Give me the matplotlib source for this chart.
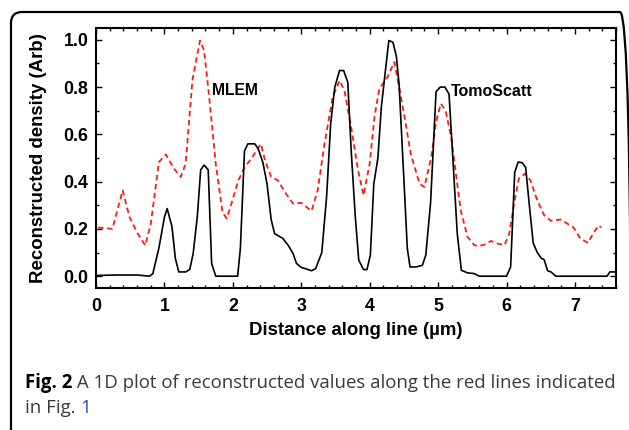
import matplotlib
matplotlib.use("Agg")
import matplotlib.pyplot as plt
from matplotlib.patches import FancyBboxPatch
from matplotlib.ticker import MultipleLocator

# black solid curve (TomoScatt)
tomo_x = [0.0, 0.3, 0.6, 0.78, 0.83, 0.92, 1.0, 1.04, 1.11, 1.16, 1.21, 1.31, 1.37, 1.42,
          1.48, 1.53, 1.58, 1.64, 1.69, 1.75, 2.07, 2.11, 2.17, 2.22, 2.32, 2.37, 2.44, 2.50,
          2.56, 2.61, 2.67, 2.73, 2.81, 2.88, 2.93, 3.0, 3.07, 3.15, 3.21, 3.30, 3.37, 3.43,
          3.49, 3.56, 3.62, 3.68, 3.73, 3.79, 3.84, 3.91, 3.96, 4.01, 4.06, 4.12, 4.17, 4.23,
          4.28, 4.34, 4.39, 4.43, 4.50, 4.55, 4.59, 4.68, 4.77, 4.82, 4.89, 4.97, 5.03, 5.10,
          5.16, 5.22, 5.28, 5.34, 5.43, 5.53, 5.60, 6.00, 6.06, 6.12, 6.17, 6.23, 6.28, 6.33,
          6.39, 6.45, 6.51, 6.55, 6.60, 6.65, 6.72, 7.47, 7.51, 7.6]
tomo_y = [0.003, 0.005, 0.005, 0.0, 0.01, 0.12, 0.25, 0.286, 0.21, 0.075, 0.018, 0.018, 0.028,
          0.096, 0.25, 0.45, 0.47, 0.45, 0.054, 0.0, 0.0, 0.117, 0.53, 0.56, 0.56, 0.54, 0.48,
          0.39, 0.24, 0.18, 0.17, 0.16, 0.13, 0.096, 0.054, 0.037, 0.031, 0.023, 0.032, 0.10,
          0.335, 0.645, 0.80, 0.87, 0.87, 0.82, 0.53, 0.25, 0.068, 0.028, 0.028, 0.089, 0.39,
          0.50, 0.715, 0.87, 0.997, 0.99, 0.93, 0.81, 0.41, 0.117, 0.039, 0.039, 0.046, 0.089,
          0.31, 0.78, 0.80, 0.80, 0.77, 0.476, 0.18, 0.025, 0.014, 0.011, 0.0, 0.0, 0.039,
          0.44, 0.483, 0.48, 0.46, 0.31, 0.14, 0.10, 0.075, 0.07, 0.023, 0.018, 0.0, 0.0,
          0.018, 0.018]

# red dashed curve (MLEM)
mlem_x = [0.03, 0.24, 0.39, 0.49, 0.61, 0.72, 0.80, 0.92, 1.02, 1.14, 1.24, 1.31, 1.41, 1.52,
          1.58, 1.65, 1.75, 1.85, 1.91, 1.98, 2.08, 2.17, 2.27, 2.41, 2.47, 2.56, 2.66, 2.76,
          2.88, 3.0, 3.15, 3.24, 3.34, 3.46, 3.56, 3.63, 3.73, 3.83, 3.91, 4.0, 4.07, 4.14,
          4.26, 4.36, 4.43, 4.51, 4.60, 4.73, 4.80, 4.90, 4.97, 5.04, 5.11, 5.19, 5.26, 5.33,
          5.43, 5.53, 5.60, 5.72, 5.77, 5.87, 5.97, 6.04, 6.11, 6.18, 6.27, 6.35, 6.45, 6.55,
          6.65, 6.79, 6.89, 6.98, 7.08, 7.19, 7.28, 7.35, 7.38]
mlem_y = [0.206, 0.20, 0.363, 0.25, 0.18, 0.13, 0.22, 0.483, 0.515, 0.455, 0.42, 0.476, 0.83,
          0.997, 0.955, 0.77, 0.476, 0.27, 0.244, 0.307, 0.405, 0.46, 0.497, 0.56, 0.49, 0.42,
          0.405, 0.356, 0.307, 0.31, 0.276, 0.363, 0.56, 0.758, 0.828, 0.786, 0.63, 0.448,
          0.342, 0.476, 0.673, 0.793, 0.842, 0.906, 0.80, 0.673, 0.518, 0.39, 0.377, 0.504,
          0.652, 0.73, 0.70, 0.59, 0.434, 0.279, 0.166, 0.131, 0.127, 0.138, 0.149, 0.138,
          0.131, 0.18, 0.307, 0.413, 0.434, 0.405, 0.32, 0.258, 0.234, 0.24, 0.222, 0.206,
          0.159, 0.141, 0.187, 0.215, 0.206]

x_ticks = [0, 1, 2, 3, 4, 5, 6, 7]
y_ticks = [0.0, 0.2, 0.4, 0.6, 0.8, 1.0]

bold_font = "Liberation Sans"
cap_font = "Open Sans"

fig = plt.figure(figsize=(6.29, 4.30), dpi=100)

# rounded frame round the whole panel, drawn in inches so corners stay round
# (right and bottom edges sit just outside the picture, as in the source)
frame = FancyBboxPatch((0.11, -0.2), 6.2, 4.38,
                       boxstyle="round,pad=0,rounding_size=0.11",
                       transform=fig.dpi_scale_trans, fill=False, lw=1.6, ec="black")
fig.add_artist(frame)

ax = fig.add_axes([96 / 629, 142 / 430, 520 / 629, 260 / 430])
ax.plot(mlem_x, mlem_y, color="#ff1a1a", lw=1.3, linestyle=(0, (3, 2)))
ax.plot(tomo_x, tomo_y, color="black", lw=1.2)

ax.set_xlim(0, 7.6)
ax.set_ylim(-0.05, 1.05)
ax.set_xticks(x_ticks)
ax.set_yticks(y_ticks)
ax.set_xticklabels([str(v) for v in x_ticks])
ax.set_yticklabels([f"{v:.1f}" for v in y_ticks])
ax.xaxis.set_minor_locator(MultipleLocator(0.2))
ax.yaxis.set_minor_locator(MultipleLocator(0.1))
ax.tick_params(which="both", direction="in", top=True, right=True, width=1.0)
ax.tick_params(which="major", length=4)
ax.tick_params(which="minor", length=2.2)
ax.tick_params(axis="x", pad=7)
ax.tick_params(axis="y", pad=5.5)
for lab in ax.get_xticklabels() + ax.get_yticklabels():
    lab.set_fontfamily(bold_font)
    lab.set_fontweight("bold")
    lab.set_fontsize(12.8)
for sp in ax.spines.values():
    sp.set_linewidth(1.5)

ax.set_xlabel("Distance along line (\u00b5m)", fontfamily=bold_font, fontweight="bold",
              fontsize=13.4, labelpad=5)
ax.set_ylabel("Reconstructed density (Arb)", fontfamily=bold_font, fontweight="bold",
              fontsize=13.4, labelpad=12)

ax.text(1.69, 0.786, "MLEM", fontfamily=bold_font, fontweight="bold", fontsize=11.3,
        va="center", ha="left")
ax.text(5.19, 0.783, "TomoScatt", fontfamily=bold_font, fontweight="bold", fontsize=11.5,
        va="center", ha="left")

# caption with mixed styles
fig.canvas.draw()
renderer = fig.canvas.get_renderer()
cap_size = 13.4
t1 = fig.text(25 / 629, 1 - 388 / 430, "Fig. 2", fontfamily=cap_font, fontweight="bold",
              fontsize=cap_size, color="black", va="baseline")
w1 = t1.get_window_extent(renderer).width
fig.text((25 + w1) / 629, 1 - 388 / 430,
         " A 1D plot of reconstructed values along the red lines indicated",
         fontfamily=cap_font, fontsize=cap_size, color="#3a3a3a", va="baseline")
t3 = fig.text(25 / 629, 1 - 413 / 430, "in Fig. ", fontfamily=cap_font, fontsize=cap_size,
              color="#3a3a3a", va="baseline")
w3 = t3.get_window_extent(renderer).width
fig.text((25 + w3) / 629, 1 - 413 / 430, "1", fontfamily=cap_font, fontsize=cap_size,
         color="#3b46c8", va="baseline")

fig.savefig("out.png", dpi=100)
